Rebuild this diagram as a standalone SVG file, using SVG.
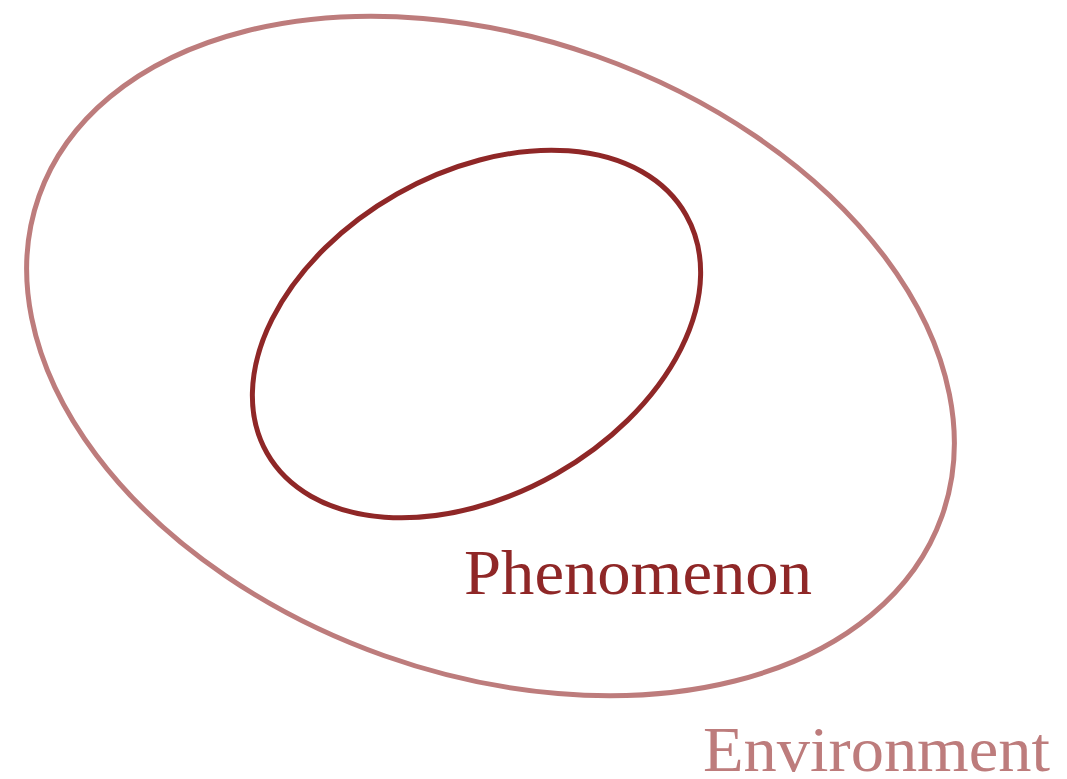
<svg xmlns="http://www.w3.org/2000/svg" width="1067" height="779" viewBox="0 0 1067 779">
<style>
.env{fill:none;stroke:#bd7c7c;stroke-width:5}
.phen{fill:none;stroke:#8f2727;stroke-width:5}
.lbl{font-family:"Liberation Serif","DejaVu Serif",serif;font-size:63px}
</style>
<rect width="1067" height="779" fill="#fff"/>
<g id="environment">
<ellipse class="env" cx="490.5" cy="356" rx="479" ry="318" transform="rotate(19.5 490.5 356)"/>
<text class="lbl" x="703" y="771" fill="#bd7c7c" textLength="347" lengthAdjust="spacingAndGlyphs">Environment</text>
</g>
<g id="phenomenon">
<ellipse class="phen" cx="476.5" cy="334" rx="241" ry="161" transform="rotate(-29.6 476.5 334)"/>
<text class="lbl" x="464" y="594" fill="#8f2727" textLength="348" lengthAdjust="spacingAndGlyphs">Phenomenon</text>
</g>
<g id="connectors"></g>
</svg>
